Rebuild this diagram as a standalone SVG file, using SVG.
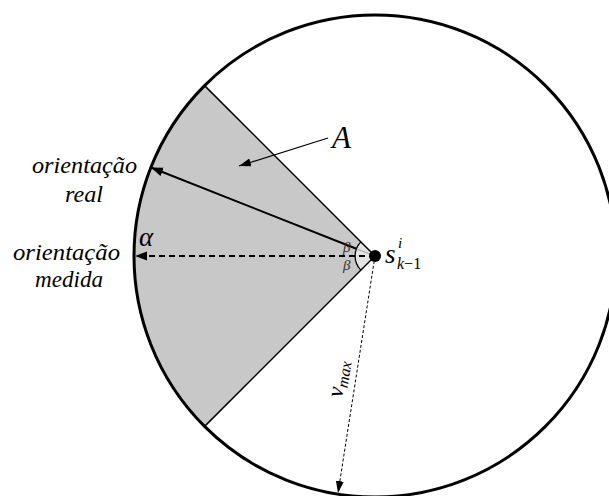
<svg xmlns="http://www.w3.org/2000/svg" width="609" height="496" viewBox="0 0 609 496">
<style>
  text { font-family: 'Liberation Serif', 'DejaVu Serif', serif; font-style: italic; fill: #000; }
  .edge { stroke: #000; stroke-width: 1.5; fill: none; }
</style>
<defs>
  <marker id="arr" markerUnits="userSpaceOnUse" markerWidth="13" markerHeight="10" refX="12" refY="4.5" orient="auto">
    <path d="M0,0 L12,4.5 L0,9 Z" fill="#000"/>
  </marker>
  <marker id="arrS" markerUnits="userSpaceOnUse" markerWidth="13" markerHeight="10" refX="12" refY="4" orient="auto">
    <path d="M0,0 L12,4 L0,8 Z" fill="#000"/>
  </marker>
</defs>
<rect width="609" height="496" fill="#fff"/>

<g id="region">
  <path id="sector" d="M375,256 L204.6,85.6 A241,241 0 0 0 204.6,426.4 Z" fill="#c8c8c8" stroke="none"/>
  <path d="M375,256 L360.9,241.9 A20,20 0 0 0 360.9,270.1 Z" fill="#e4e4e4" stroke="none"/>
  <line class="edge" x1="375" y1="256" x2="204.6" y2="85.6"/>
  <line class="edge" x1="375" y1="256" x2="204.6" y2="426.4"/>
  <path d="M360.9,241.9 A20,20 0 0 0 360.9,270.1" fill="none" stroke="#000" stroke-width="1.3"/>
  <circle cx="375" cy="256" r="241" fill="none" stroke="#000" stroke-width="3"/>
</g>

<g id="connectors">
  <line x1="375" y1="256" x2="356.4" y2="248.7" stroke="#aaa" stroke-width="1.2"/>
  <line x1="356.4" y1="248.7" x2="151" y2="167.5" stroke="#000" stroke-width="2" marker-end="url(#arr)"/>
  <line x1="375" y1="256" x2="135" y2="256" stroke="#000" stroke-width="2" stroke-dasharray="6,4" marker-end="url(#arr)"/>
  <line x1="375" y1="256" x2="338" y2="493" stroke="#000" stroke-width="1" stroke-dasharray="3,2" marker-end="url(#arrS)"/>
  <line x1="328" y1="138" x2="239" y2="166" stroke="#000" stroke-width="1.2" marker-end="url(#arrS)"/>
</g>

<g id="node-s">
  <circle cx="375" cy="256" r="6" fill="#000"/>
  <text x="385" y="263" font-size="27">s</text>
  <text x="398" y="248" font-size="15">i</text>
  <text x="397" y="269" font-size="16">k<tspan font-style="normal">−1</tspan></text>
</g>

<g id="label-A">
  <text x="332" y="148" font-size="31">A</text>
</g>

<g id="label-real">
  <text x="32" y="173" font-size="24" textLength="105" lengthAdjust="spacingAndGlyphs">orientação</text>
  <text x="65" y="202" font-size="24" textLength="38" lengthAdjust="spacingAndGlyphs">real</text>
</g>

<g id="label-medida">
  <text x="13" y="260" font-size="24" textLength="107" lengthAdjust="spacingAndGlyphs">orientação</text>
  <text x="35" y="287" font-size="24" textLength="68" lengthAdjust="spacingAndGlyphs">medida</text>
</g>

<g id="label-alpha">
  <text x="139" y="246" font-size="27">α</text>
</g>

<g id="label-beta">
  <text x="343" y="252" font-size="15" style="fill:#333">β</text>
  <text x="343" y="270" font-size="15" style="fill:#333">β</text>
</g>

<g id="label-vmax">
  <text transform="translate(342,398) rotate(-81)" font-size="23">v<tspan font-size="16" dy="4">max</tspan></text>
</g>
</svg>
